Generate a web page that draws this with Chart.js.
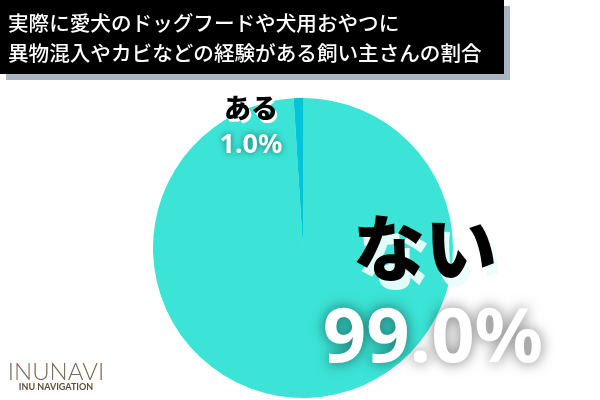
<!DOCTYPE html>
<html>
<head>
<meta charset="utf-8">
<script src="https://cdn.jsdelivr.net/npm/chart.js@4.4.1/dist/chart.umd.min.js"></script>
<style>
  html,body{margin:0;padding:0;background:#fff;}
  #wrap{position:relative;width:600px;height:400px;overflow:hidden;}
  #c{position:absolute;left:0;top:0;}
</style>
</head>
<body>
<div id="wrap"><canvas id="c" width="600" height="400"></canvas></div>
<script>
// —— データ ——
const titleLines = ['実際に愛犬のドッグフードや犬用おやつに', '異物混入やカビなどの経験がある飼い主さんの割合'];
const labels = ['ない', 'ある'];
const values = [99.0, 1.0];
const colors = ['#3be4d6', '#00c3dc'];

const JP = '"Noto Sans CJK JP", "Noto Sans", sans-serif';

// タイトル帯・ラベル・ロゴを描くプラグイン
const decor = {
  id: 'decor',
  beforeDraw(chart){
    const ctx = chart.ctx;
    ctx.save();
    // 影
    ctx.fillStyle = '#aab4c2';
    ctx.fillRect(6, 6, 504, 74);
    ctx.fillStyle = '#000';
    ctx.fillRect(0, 0, 504, 74);
    ctx.fillStyle = '#fff';
    ctx.font = '500 20.6px ' + JP;
    ctx.textBaseline = 'middle';
    ctx.textAlign = 'left';
    ctx.fillText(titleLines[0], 8, 23);
    ctx.fillText(titleLines[1], 8, 53);
    ctx.restore();
  },
  afterDraw(chart){
    const ctx = chart.ctx;
    ctx.save();
    ctx.textAlign = 'center';
    ctx.textBaseline = 'middle';

    // ない 99.0%
    const bx = 425, by = 248;
    ctx.font = '900 72px ' + JP;
    ctx.fillStyle = 'rgba(235,253,251,0.95)';
    ctx.fillText(labels[0], bx + 5, by + 9);
    ctx.fillStyle = '#000';
    ctx.fillText(labels[0], bx, by);

    ctx.font = 'bold 76px "Noto Sans", ' + JP;
    ctx.shadowColor = 'rgba(0,0,0,0.55)';
    ctx.shadowBlur = 14;
    ctx.fillStyle = '#fff';
    ctx.fillText(values[0].toFixed(1) + '%', 433, 340);
    ctx.shadowBlur = 0;
    ctx.shadowColor = 'transparent';

    // ある 1.0%
    const sx = 251, sy = 108;
    ctx.font = '900 27px ' + JP;
    ctx.fillStyle = '#fff';
    ctx.fillText(labels[1], sx + 2, sy + 3);
    ctx.fillStyle = '#000';
    ctx.fillText(labels[1], sx, sy);

    ctx.font = 'bold 27px "Noto Sans", ' + JP;
    ctx.shadowColor = 'rgba(0,0,0,0.5)';
    ctx.shadowBlur = 6;
    ctx.fillStyle = '#fff';
    ctx.fillText(values[1].toFixed(1) + '%', 251, 145);
    ctx.shadowBlur = 0;
    ctx.shadowColor = 'transparent';

    // ロゴ
    ctx.fillStyle = '#7b6b55';
    ctx.font = '300 24px Lato, "Open Sans", sans-serif';
    ctx.fillText('INUNAVI', 56, 372);
    ctx.font = 'bold 9px Lato, "Open Sans", sans-serif';
    ctx.fillStyle = '#5e4e3a';
    ctx.fillText('INU NAVIGATION', 56, 387);
    ctx.restore();
  }
};

new Chart(document.getElementById('c'), {
  type: 'pie',
  data: {
    labels,
    datasets: [{
      data: values,
      backgroundColor: colors,
      borderWidth: 0
    }]
  },
  options: {
    responsive: false,
    animation: false,
    layout: { padding: { left: 153, right: 147, top: 98, bottom: 2 } },
    plugins: { legend: { display: false }, tooltip: { enabled: false } }
  },
  plugins: [decor]
});
</script>
</body>
</html>
